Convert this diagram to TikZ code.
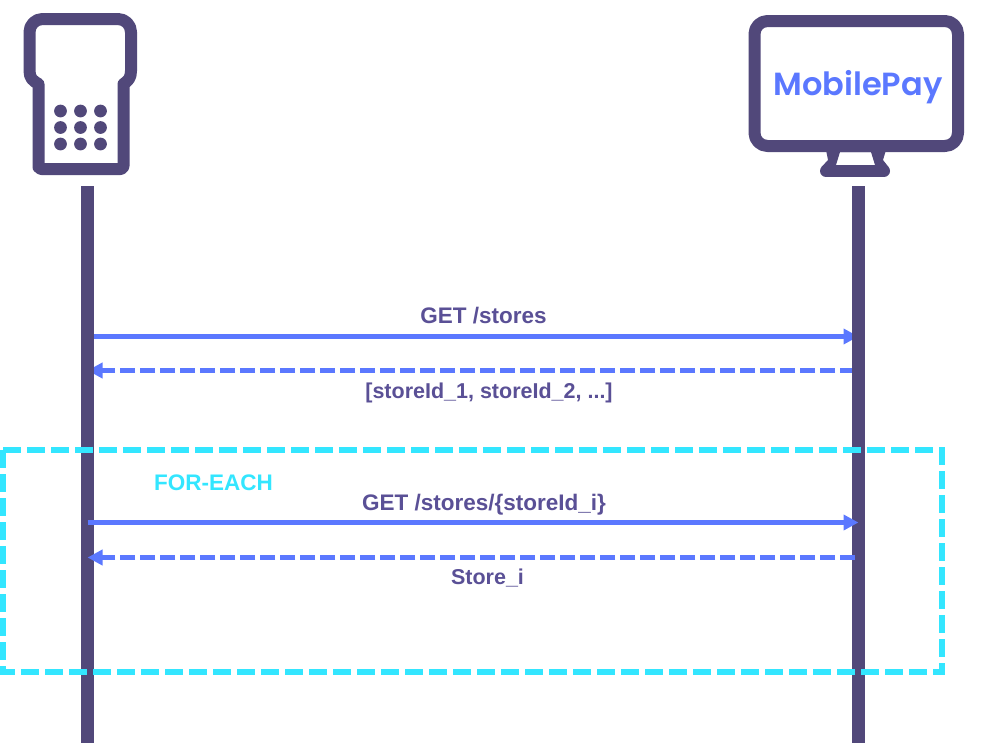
\documentclass[tikz,border=0pt]{standalone}
\usepackage{fontspec}
\setmainfont{Liberation Sans}
\newfontfamily\logofont{Poppins SemiBold}
\usetikzlibrary{arrows.meta}
\definecolor{pur}{HTML}{51487A}
\definecolor{txt}{HTML}{5A5096}
\definecolor{blu}{HTML}{5B78FF}
\definecolor{cya}{HTML}{33E6FF}
\tikzset{
 life/.style={draw=pur,line width=13pt},
 icon/.style={draw=pur,line width=12pt,line join=round},
 dotk/.style={fill=pur,draw=none},
 msg/.style={draw=blu,line width=5pt,-{Triangle[length=15pt,width=15pt]}},
 ret/.style={msg,dash pattern=on 15pt off 5pt},
 frame/.style={draw=cya,line width=6pt,dash pattern=on 18pt off 6pt},
 lab/.style={text=txt,font=\fontsize{21.5}{24}\selectfont\bfseries,inner sep=0pt,anchor=base},
 labwide/.style={lab,font=\fontsize{22.5}{24}\selectfont\bfseries},
}
\begin{document}
\begin{tikzpicture}[x=1pt,y=-1pt]
\useasboundingbox (0,0) rectangle (997,750);
\fill[white] (0,0) rectangle (997,750);
\coordinate (lt) at (87.5,186); \coordinate (lb) at (87.5,743);
\coordinate (rt) at (858.5,186); \coordinate (rb) at (858.5,743);
\coordinate (a1) at (87.5,336.5); \coordinate (b1) at (858.5,336.5);
\coordinate (b2) at (855,370.5); \coordinate (a2) at (87.5,370.5);
\coordinate (a3) at (87.5,522.5); \coordinate (b3) at (858.5,522.5);
\coordinate (b4) at (855,557.5); \coordinate (a4) at (87.5,557.5);
% device
\draw[icon] (38.5,169) [rounded corners=3pt] -- (123.5,169) [rounded corners=0pt] -- (123.5,84)
  .. controls (128,81) and (131,78) .. (131,71) [rounded corners=13pt] -- (131,19) -- (29.5,19) [rounded corners=0pt] -- (29.5,71)
  .. controls (29.5,78) and (33,81) .. (38.5,84) [rounded corners=3pt] -- (38.5,169) -- cycle;
\foreach \x in {60.5,80.5,100.5}\foreach \y in {111,127.5,144}\fill[dotk] (\x,\y) circle (6.4pt);
% monitor
\draw[icon,rounded corners=13pt] (754.5,21) rectangle (958,146);
\fill[pur,even odd rule] (826,150) -- (828,160) -- (821.5,167) -- (828,175) -- (882,175) -- (888.5,167) -- (883,160) -- (886,150) -- cycle
  (840,152) -- (836,165) -- (875,165) -- (871,152) -- cycle;
\draw[icon,line cap=round] (826,171) -- (884,171);
\node[inner sep=0pt,text=blu,anchor=base] (logo) at (858,95) {\logofont\fontsize{32}{34}\selectfont MobilePay};
% arrows behind life lines
\draw[msg] (a1) -- (b1);
\draw[ret] (b2) -- (a2);
\draw[life] (lt) -- (lb);
\draw[life] (rt) -- (rb);
\draw[msg] (a3) -- (b3);
\draw[ret] (b4) -- (a4);
% frame
\draw[frame] (3,450) -- (942,450);
\draw[frame] (942,447) -- (942,672);
\draw[frame] (3,450) -- (3,672);
\draw[frame] (-3,672) -- (945,672);
\node[labwide,text=cya] (fe) at (213.5,490) {FOR-EACH};
\node[labwide] (l1) at (483.5,323) {GET /stores};
\node[lab] (l2) at (489,398) {[storeId\_1, storeId\_2, ...]};
\node[labwide] (l3) at (484,510) {GET /stores/\{storeId\_i\}};
\node[lab] (l4) at (487.5,584) {Store\_i};
\end{tikzpicture}
\end{document}
